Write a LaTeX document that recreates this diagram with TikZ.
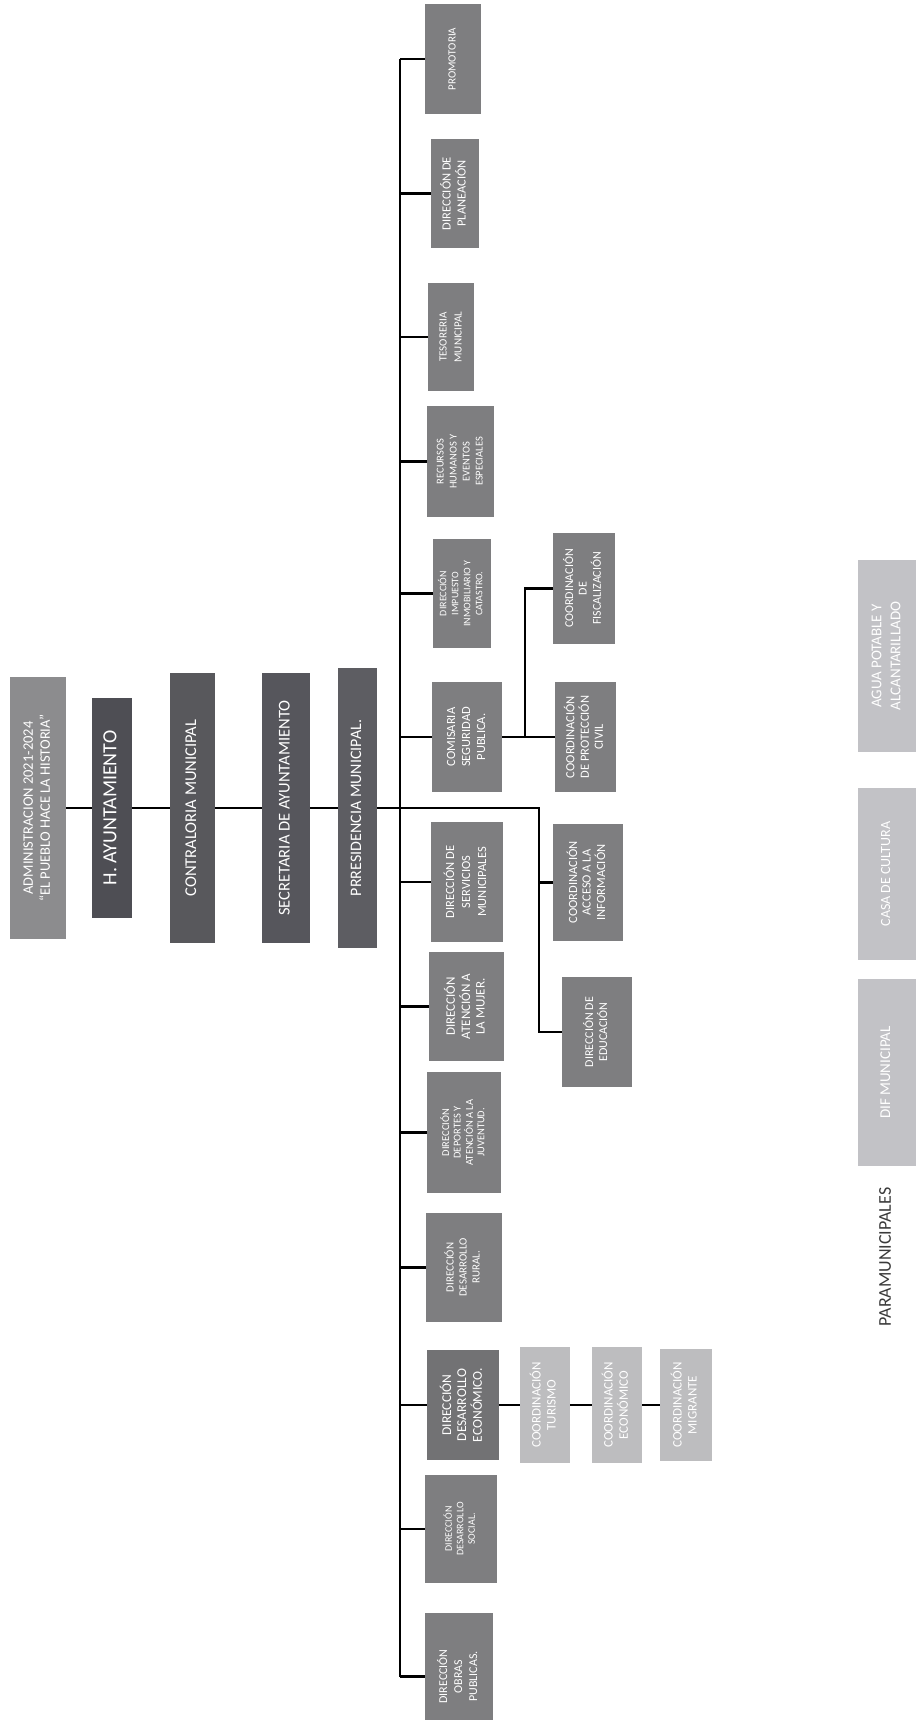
\documentclass[tikz,border=0pt]{standalone}
\usepackage{fontspec}
\setmainfont{Carlito}
\usepackage{graphicx}
\definecolor{boxgrey}{HTML}{7E7E80}
\definecolor{boxdark}{HTML}{727274}
\definecolor{lightgrey}{HTML}{BDBDBF}
\definecolor{paragrey}{HTML}{C2C2C6}
\definecolor{admgrey}{HTML}{8C8C8E}
\definecolor{haygrey}{HTML}{4E4E54}
\definecolor{congrey}{HTML}{58585C}
\definecolor{secgrey}{HTML}{56565C}
\definecolor{presgrey}{HTML}{5D5D62}
\definecolor{paratext}{HTML}{3A3A3A}
\newcommand{\tx}[3]{\rotatebox{90}{\fontsize{#1pt}{#2pt}\selectfont\begin{tabular}{@{}c@{}}#3\end{tabular}}}
\newcommand{\bx}[7]{\node[#6, minimum width={(#4-#2)*1pt}, minimum height={(#5-#3)*1pt}] (#1) at ({(#2+#4)/2},{(#3+#5)/2}) {#7};}
\tikzset{
  box/.style={fill=boxgrey, text=white, inner sep=0pt},
  chainbox/.style={box},
  coordbox/.style={box, fill=lightgrey},
  parabox/.style={box, fill=paragrey},
  link/.style={line width=2.2pt, draw=black},
}
\begin{document}
\begin{tikzpicture}[x=1pt,y=-1pt]
\useasboundingbox (0,0) rectangle (919,1720);
\fill[white] (0,0) rectangle (919,1720);
\clip (0,0) rectangle (919,1720);

% chain
\bx{admin}{10}{677}{66}{939}{chainbox, fill=admgrey}{\tx{14.5}{17}{ADMINISTRACION 2021-2024\\“EL PUEBLO HACE LA HISTORIA”}}
\bx{hay}{92}{698}{132}{918}{chainbox, fill=haygrey}{\tx{20}{22}{H. AYUNTAMIENTO}}
\bx{contr}{170}{673}{215}{943}{chainbox, fill=congrey}{\tx{16.5}{18}{CONTRALORIA MUNICIPAL}}
\bx{secr}{262}{673}{310}{943}{chainbox, fill=secgrey}{\tx{16.5}{18}{SECRETARIA DE AYUNTAMIENTO}}
\bx{pres}{338}{668}{377}{948}{chainbox, fill=presgrey}{\tx{16}{18}{PRRESIDENCIA MUNICIPAL.}}

% main column
\bx{prom}{425}{4}{481}{114}{box}{\tx{11}{13}{PROMOTORIA}}
\bx{plan}{431}{139}{479}{248}{box}{\tx{12.5}{15}{DIRECCIÓN DE\\PLANEACIÓN}}
\bx{teso}{428}{283}{474}{391}{box}{\tx{11}{15}{TESORERIA\\MUNICIPAL}}
\bx{recu}{427}{406}{494}{517}{box}{\tx{10.5}{13}{RECURSOS\\HUMANOS Y\\EVENTOS\\ESPECIALES}}
\bx{impu}{433}{539}{491}{648}{box}{\tx{10}{12}{DIRECCIÓN\\IMPUESTO\\INMOBILIARIO Y\\CATASTRO.}}
\bx{comi}{432}{682}{502}{792}{box}{\tx{12.5}{15}{COMISARIA\\SEGURIDAD\\PUBLICA.}}
\bx{serv}{431}{822}{503}{942}{box}{\tx{12.5}{16}{DIRECCIÓN DE\\SERVICIOS\\MUNICIPALES}}
\bx{muje}{429}{952}{504}{1061}{box}{\tx{13}{14.5}{DIRECCIÓN\\ATENCIÓN A\\LA MUJER.}}
\bx{depo}{427}{1072}{501}{1193}{box}{\tx{10.5}{11.5}{DIRECCIÓN\\DEPORTES Y\\ATENCIÓN A LA\\JUVENTUD.}}
\bx{rura}{426}{1213}{502}{1322}{box}{\tx{11}{13}{DIRECCIÓN\\DESARROLLO\\RURAL.}}
\bx{econ}{427}{1350}{499}{1460}{box, fill=boxdark}{\tx{13.5}{15}{DIRECCIÓN\\DESARROLLO\\ECONÓMICO.}}
\bx{soci}{425}{1475}{497}{1583}{box}{\tx{10}{11.5}{DIRECCIÓN\\DESARROLLO\\SOCIAL.}}
\bx{obra}{425}{1613}{493}{1740}{box}{\tx{12}{15}{DIRECCIÓN\\OBRAS\\PUBLICAS.}}

% second level
\bx{fisc}{553}{533}{615}{644}{box}{\tx{12}{13.5}{COORDINACIÓN\\DE\\FISCALIZACIÓN}}
\bx{prot}{555}{682}{616}{792}{box}{\tx{12.5}{14}{COORDINACIÓN\\DE PROTECCIÓN\\CIVIL}}
\bx{acce}{553}{824}{623}{941}{box}{\tx{12.5}{13.5}{COORDINACIÓN\\ACCESO A LA\\INFORMACIÓN}}
\bx{educ}{562}{977}{632}{1087}{box}{\tx{12}{13}{DIRECCIÓN DE\\EDUCACIÓN}}
\bx{turi}{520}{1347}{570}{1463}{coordbox}{\tx{13}{15}{COORDINACIÓN\\TURISMO}}
\bx{coec}{592}{1347}{642}{1463}{coordbox}{\tx{13}{15}{COORDINACIÓN\\ECONÓMICO}}
\bx{migr}{660}{1349}{712}{1461}{coordbox}{\tx{13}{15}{COORDINACIÓN\\MIGRANTE}}

% paramunicipales
\bx{agua}{858}{560}{916}{752}{parabox}{\tx{15}{19}{AGUA POTABLE Y\\ALCANTARILLADO}}
\bx{casa}{858}{788}{916}{960}{parabox}{\tx{14}{16}{CASA DE CULTURA}}
\bx{dif}{858}{979}{916}{1166}{parabox}{\tx{15}{16}{DIF MUNICIPAL}}
\node[inner sep=0pt, text=paratext, rotate=90, font=\fontsize{18pt}{20pt}\selectfont] (para) at (885,1257) {PARAMUNICIPALES};

% connectors
\coordinate (tx) at (400,0);
\coordinate (ttop) at (prom.west -| tx);
\coordinate (tbot) at (obra.west -| tx);
\draw[link] (ttop) -- (tbot);
\foreach \n in {prom,plan,teso,recu,impu,comi,serv,muje,depo,rura,econ,soci,obra}
  \draw[link] (\n.west) -- (\n.west -| tx);

\draw[link] (admin.east) -- (hay.west);
\draw[link] (hay.east) -- (contr.west);
\draw[link] (contr.east) -- (secr.west);
\draw[link] (secr.east) -- (pres.west);
\coordinate (sx) at (539,0);
\draw[link] (pres.east) -- (pres.east -| sx) -- (educ.west -| sx) -- (educ.west);
\draw[link] (acce.west) -- (acce.west -| sx);

\coordinate (cx) at (525,0);
\draw[link] (comi.east) -- (prot.west);
\draw[link] (comi.east -| cx) -- (fisc.west -| cx) -- (fisc.west);

\draw[link] (econ.east) -- (turi.west);
\draw[link] (turi.east) -- (coec.west);
\draw[link] (coec.east) -- (migr.west);
\end{tikzpicture}
\end{document}
